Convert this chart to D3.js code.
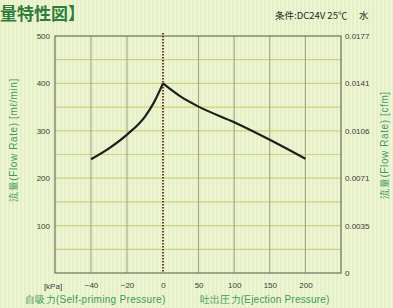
<!DOCTYPE html>
<html>
<head>
<meta charset="utf-8">
<script src="https://cdn.jsdelivr.net/npm/d3@7"></script>
<style>
  body { margin: 0; background: #eef5d6; }
  svg { display: block; }
</style>
</head>
<body>
<div id="chart"></div>
<script>
// pressure [kPa] (negative = self-priming side) vs flow rate [ml/min]
var pressure = [-40, -30, -20, -10, -5, 0, 25, 50, 100, 150, 200];
var flow = [240, 263, 292, 330, 360, 400, 372, 351, 318, 281, 241];

var x_ticks = [-40, -20, 0, 50, 100, 150, 200];
var y_ticks = [100, 200, 300, 400, 500];
var y_grid = [50, 150, 250, 350, 450];
var cfm_labels = ["0", "0.0035", "0.0071", "0.0106", "0.0141", "0.0177"];

var svg_width = 393;
var svg_height = 308;

var margin = {
    top: 36,
    bottom: 35,
    left: 55,
    right: 52
}
var width = svg_width - margin.left - margin.right;
var height = svg_height - margin.top - margin.bottom;

var svg = d3.select("#chart")
    .append("svg")
    .attr("width", svg_width)
    .attr("height", svg_height)
    .style("font-family", "'Liberation Sans', Arial, sans-serif");

// faint vertical stripes of the scanned paper
var defs = svg.append("defs");
var pat = defs.append("pattern")
    .attr("id", "stripes")
    .attr("width", 4)
    .attr("height", 4)
    .attr("patternUnits", "userSpaceOnUse");
pat.append("rect").attr("width", 4).attr("height", 4).attr("fill", "#eef5d2");
pat.append("rect").attr("width", 2).attr("height", 4).attr("fill", "#e5efc8");

svg.append("rect")
    .attr("width", svg_width)
    .attr("height", svg_height)
    .attr("fill", "url(#stripes)");

var chartGroup = svg.append("g")
    .attr("transform", `translate(${margin.left}, ${margin.top})`);

// x axis is piecewise: -60..0 on the left, 0..250 on the right
var x_scale = d3.scaleLinear()
    .domain([-60, 0, 250])
    .range([0, 108, width]);
var y_scale = d3.scaleLinear()
    .domain([0, 500])
    .range([height, 0]);

// horizontal grid (yellowish)
chartGroup.selectAll(".hgrid")
    .data(y_grid.concat(y_ticks.slice(0, 4)))
    .enter()
    .append("line")
    .attr("x1", 0)
    .attr("x2", width)
    .attr("y1", d => y_scale(d))
    .attr("y2", d => y_scale(d))
    .attr("stroke", "#cfd27a")
    .attr("stroke-width", 1.2);

// vertical grid (grey)
chartGroup.selectAll(".vgrid")
    .data(x_ticks.filter(d => d != 0))
    .enter()
    .append("line")
    .attr("x1", d => x_scale(d))
    .attr("x2", d => x_scale(d))
    .attr("y1", 0)
    .attr("y2", height)
    .attr("stroke", "#9a9c86")
    .attr("stroke-width", 1);

// frame
chartGroup.append("rect")
    .attr("width", width)
    .attr("height", height)
    .attr("fill", "none")
    .attr("stroke", "#6f705c")
    .attr("stroke-width", 1.2);

// dotted line at 0 kPa
chartGroup.append("line")
    .attr("x1", x_scale(0))
    .attr("x2", x_scale(0))
    .attr("y1", -3)
    .attr("y2", height)
    .attr("stroke", "#6b3a2a")
    .attr("stroke-width", 2)
    .attr("stroke-dasharray", "1.5,1.5");

// axes (text only, frame drawn above)
var bottom_axis = d3.axisBottom(x_scale)
    .tickValues(x_ticks)
    .tickSize(0)
    .tickPadding(9);
var xg = chartGroup.append("g")
    .attr("transform", `translate(0,${height})`)
    .call(bottom_axis);

var left_axis = d3.axisLeft(y_scale)
    .tickValues(y_ticks)
    .tickSize(0)
    .tickPadding(5);
var yg = chartGroup.append("g").call(left_axis);

var cfm_scale = d3.scalePoint()
    .domain(cfm_labels)
    .range([height, 0]);
var right_axis = d3.axisRight(cfm_scale)
    .tickSize(0)
    .tickPadding(4);
var rg = chartGroup.append("g")
    .attr("transform", `translate(${width},0)`)
    .call(right_axis);

[xg, yg, rg].forEach(function(g) {
    g.select(".domain").remove();
    g.selectAll("text")
        .attr("fill", "#3c3c34")
        .style("font-size", "8px");
});

// curve, drawn as two pieces that meet at 0 kPa
function draw_piece(from, to) {
    chartGroup.append("path")
        .datum(d3.range(from, to))
        .attr("d", d3.line()
            .x(i => x_scale(pressure[i]))
            .y(i => y_scale(flow[i]))
            .curve(d3.curveMonotoneX))
        .attr("fill", "none")
        .attr("stroke", "#1e1e1a")
        .attr("stroke-width", 2.2);
}
draw_piece(0, 6);
draw_piece(5, pressure.length);

// unit at the x axis
chartGroup.append("text")
    .attr("x", -2)
    .attr("y", height + 16)
    .attr("text-anchor", "middle")
    .style("font-size", "8px")
    .attr("fill", "#3c3c34")
    .text("[kPa]");

// x axis titles
var green = "#3f9a62";
svg.append("text")
    .attr("x", 25)
    .attr("y", 303)
    .style("font-size", "10px")
    .style("letter-spacing", "0.3px")
    .attr("fill", green)
    .text("自吸力(Self-priming Pressure)");
svg.append("text")
    .attr("x", 200)
    .attr("y", 303)
    .style("font-size", "10px")
    .style("letter-spacing", "0.2px")
    .attr("fill", green)
    .text("吐出圧力(Ejection Pressure)");

// y axis titles
svg.append("text")
    .attr("transform", "translate(17,140) rotate(-90)")
    .attr("text-anchor", "middle")
    .style("font-size", "10px")
    .style("letter-spacing", "0.6px")
    .attr("fill", green)
    .text("流量(Flow Rate) [mℓ/min]");
svg.append("text")
    .attr("transform", "translate(388,145) rotate(-90)")
    .attr("text-anchor", "middle")
    .style("font-size", "10px")
    .style("letter-spacing", "0.6px")
    .attr("fill", green)
    .text("流量(Flow Rate) [cfm]");

// header
svg.append("text")
    .attr("x", 0)
    .attr("y", 20)
    .style("font-size", "17px")
    .style("font-weight", "bold")
    .style("font-family", "'Noto Sans CJK JP', sans-serif")
    .attr("fill", "#2f7d3a")
    .text("量特性図】");
svg.append("text")
    .attr("x", 275)
    .attr("y", 19)
    .style("font-size", "9.5px")
    .style("font-family", "'Noto Sans CJK JP', sans-serif")
    .attr("fill", "#2a2a24")
    .text("条件:DC24V 25℃　 水");
</script>
</body>
</html>
